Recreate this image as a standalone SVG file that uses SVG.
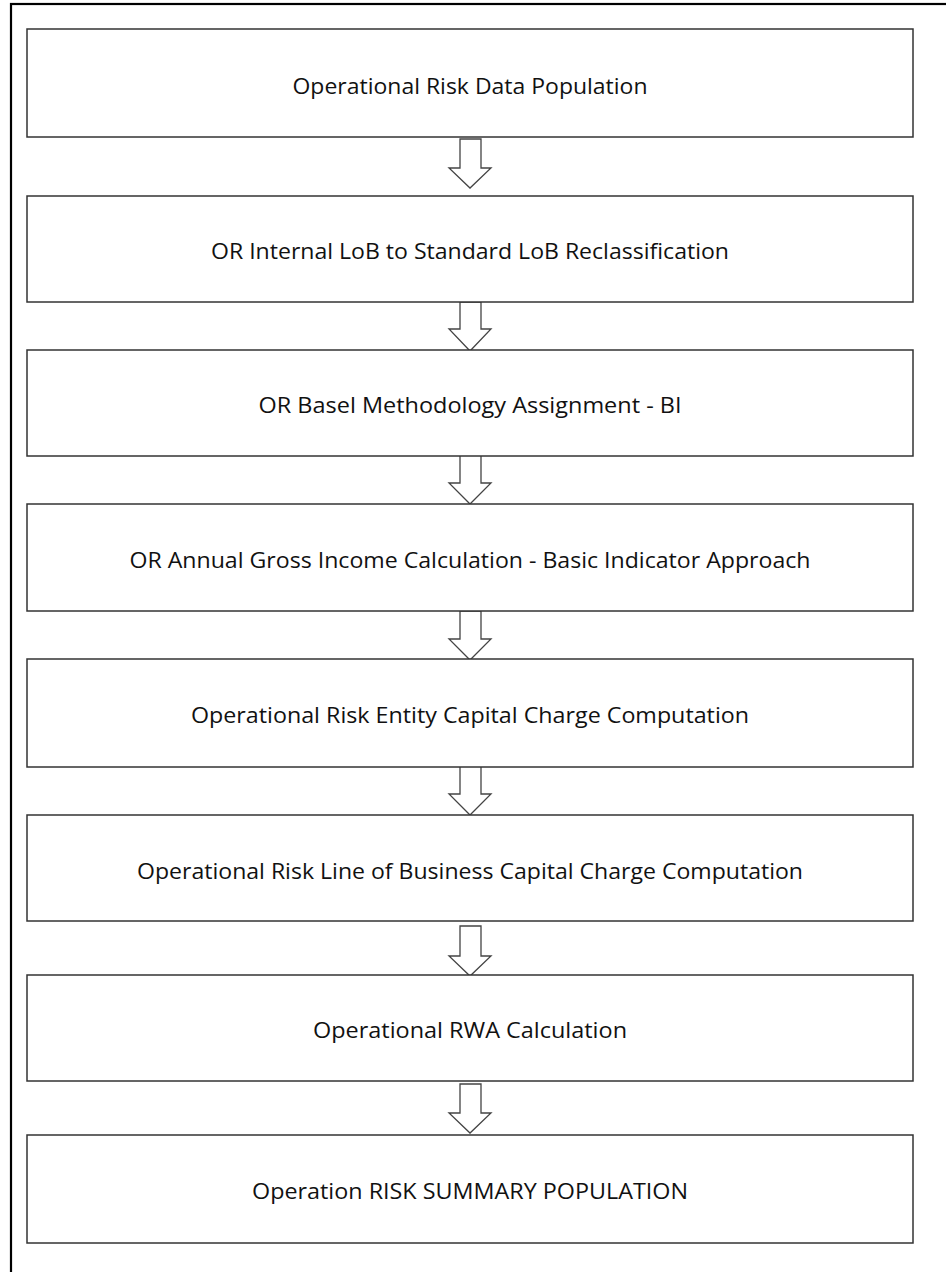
<svg xmlns="http://www.w3.org/2000/svg" width="946" height="1272" viewBox="0 0 946 1272">
<style>
.box{fill:#fff;stroke:#333;stroke-width:1.5}
.lbl{font-family:"Open Sans","Liberation Sans",sans-serif;font-size:22px;fill:#111;text-anchor:middle}
.arr{fill:#fff;stroke:#444;stroke-width:1.3;stroke-linejoin:miter}
</style>
<rect x="0" y="0" width="946" height="1272" fill="#fff"/>
<rect x="11" y="4" width="960" height="1300" fill="none" stroke="#000" stroke-width="2.2"/>
<g id="connectors">
<path class="arr" d="M460 139 H481 V168 H491 L470 188 L449 168 H460 Z"/>
<path class="arr" d="M460 302 H481 V329 H491 L470 351 L449 329 H460 Z"/>
<path class="arr" d="M460 455 H481 V483 H491 L470 504 L449 483 H460 Z"/>
<path class="arr" d="M460 611 H481 V639 H491 L470 660 L449 639 H460 Z"/>
<path class="arr" d="M460 766 H481 V794 H491 L470 815 L449 794 H460 Z"/>
<path class="arr" d="M460 926 H481 V956 H491 L470 976 L449 956 H460 Z"/>
<path class="arr" d="M460 1084 H481 V1113 H491 L470 1133 L449 1113 H460 Z"/>
</g>
<g id="n1"><rect class="box" x="27" y="29" width="886" height="108"/><text class="lbl" x="470" y="94" textLength="355" lengthAdjust="spacingAndGlyphs">Operational Risk Data Population</text></g>
<g id="n2"><rect class="box" x="27" y="196" width="886" height="106"/><text class="lbl" x="470" y="259" textLength="518" lengthAdjust="spacingAndGlyphs">OR Internal LoB to Standard LoB Reclassification</text></g>
<g id="n3"><rect class="box" x="27" y="350" width="886" height="106"/><text class="lbl" x="470" y="413" textLength="423" lengthAdjust="spacingAndGlyphs">OR Basel Methodology Assignment - BI</text></g>
<g id="n4"><rect class="box" x="27" y="504" width="886" height="107"/><text class="lbl" x="470" y="568" textLength="681" lengthAdjust="spacingAndGlyphs">OR Annual Gross Income Calculation - Basic Indicator Approach</text></g>
<g id="n5"><rect class="box" x="27" y="659" width="886" height="108"/><text class="lbl" x="470" y="723" textLength="558" lengthAdjust="spacingAndGlyphs">Operational Risk Entity Capital Charge Computation</text></g>
<g id="n6"><rect class="box" x="27" y="815" width="886" height="106"/><text class="lbl" x="470" y="879" textLength="666" lengthAdjust="spacingAndGlyphs">Operational Risk Line of Business Capital Charge Computation</text></g>
<g id="n7"><rect class="box" x="27" y="975" width="886" height="106"/><text class="lbl" x="470" y="1038" textLength="314" lengthAdjust="spacingAndGlyphs">Operational RWA Calculation</text></g>
<g id="n8"><rect class="box" x="27" y="1135" width="886" height="108"/><text class="lbl" x="470" y="1199" textLength="436" lengthAdjust="spacingAndGlyphs">Operation RISK SUMMARY POPULATION</text></g>
</svg>
